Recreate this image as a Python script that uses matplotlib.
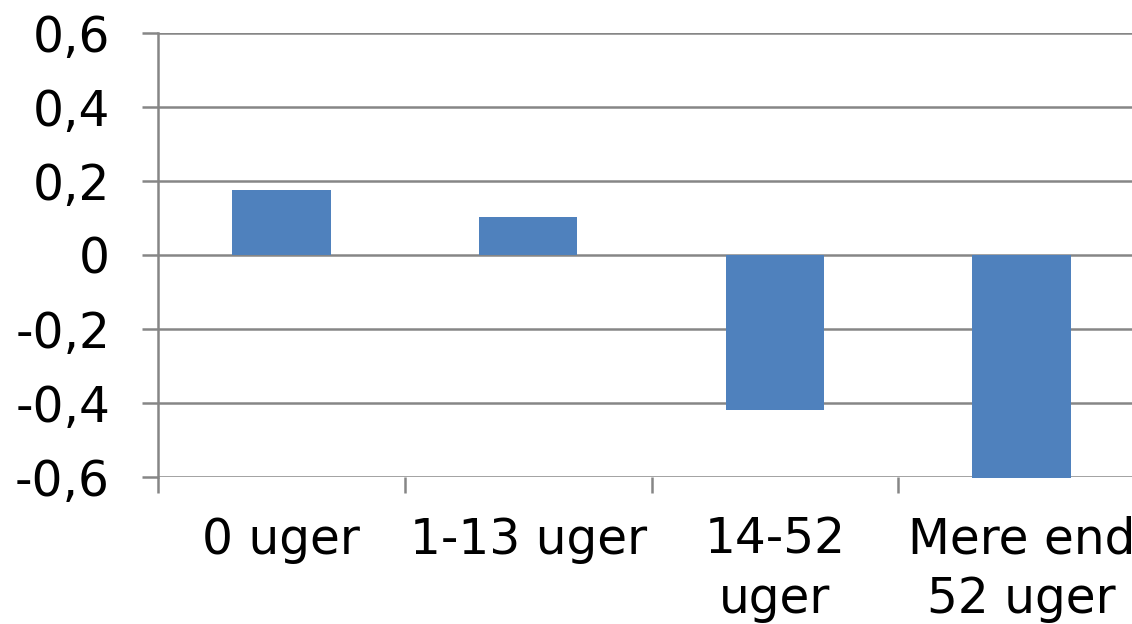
import matplotlib.pyplot as plt
import numpy as np

categories = ['0 uger', '1-13 uger', '14-52\nuger', 'Mere end\n52 uger']
values = [0.177, 0.104, -0.42, -0.603]
yticks = [-0.6, -0.4, -0.2, 0, 0.2, 0.4, 0.6]
yticklabels = ['-0,6', '-0,4', '-0,2', '0', '0,2', '0,4', '0,6']

grey = '#868686'
blue = '#4F81BD'

fig = plt.figure(figsize=(11.32, 6.24), dpi=100)
ax = fig.add_axes([158 / 1132, 1 - 477 / 624, 987 / 1132, 444 / 624])

x = np.arange(len(categories))
ax.bar(x, values, width=0.4, color=blue, zorder=3, clip_on=False)

ax.set_xlim(-0.5, len(categories) - 0.5)
ax.set_ylim(-0.6, 0.6)

ax.set_yticks(yticks)
ax.set_yticklabels(yticklabels)
ax.yaxis.grid(True, color=grey, linewidth=1.8, zorder=0)
ax.set_axisbelow(True)

ax.set_xticks(x)
ax.set_xticklabels(categories, linespacing=1.3)
ax.set_xticks(np.arange(len(categories) + 1) - 0.5, minor=True)

ax.tick_params(axis='y', length=11.5, width=1.8, color=grey, pad=23, labelsize=35)
ax.tick_params(axis='x', which='major', length=0, pad=28, labelsize=35)
ax.tick_params(axis='x', which='minor', length=11.5, width=1.8, color=grey)

ax.spines['top'].set_visible(False)
ax.spines['right'].set_visible(False)
ax.spines['bottom'].set_visible(False)
ax.spines['left'].set_color(grey)
ax.spines['left'].set_linewidth(1.8)

fig.savefig('out.png', dpi=100)
